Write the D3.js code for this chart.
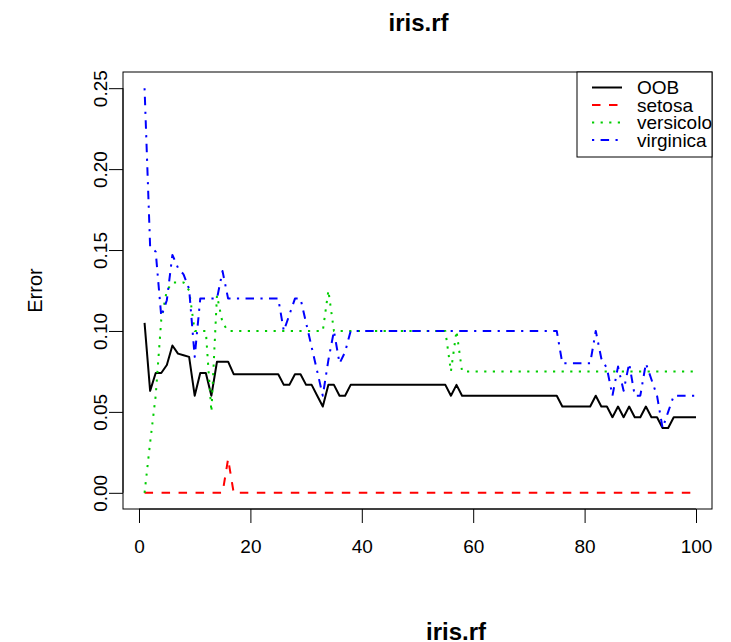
<!DOCTYPE html>
<html>
<head>
<meta charset="utf-8">
<script src="https://cdn.jsdelivr.net/npm/d3@7"></script>
<style>
  body { margin: 0; background: #fff; }
  svg { display: block; font-family: "Liberation Sans", Arial, Helvetica, sans-serif; }
</style>
</head>
<body>
<svg id="chart" width="731" height="642"></svg>
<script>
// Number of trees grown (x axis)
const trees = d3.range(1, 101);

// Out-of-bag error rate per number of trees
const oob = [
  0.105, 0.063, 0.074, 0.074, 0.079, 0.091, 0.086, 0.085, 0.084, 0.060,
  0.074, 0.074, 0.060, 0.081, 0.081, 0.081, 0.0733, 0.0733, 0.0733, 0.0733,
  0.0733, 0.0733, 0.0733, 0.0733, 0.0733, 0.0667, 0.0667, 0.0733, 0.0733, 0.0667,
  0.0667, 0.060, 0.0533, 0.0667, 0.0667, 0.060, 0.060, 0.0667, 0.0667, 0.0667,
  0.0667, 0.0667, 0.0667, 0.0667, 0.0667, 0.0667, 0.0667, 0.0667, 0.0667, 0.0667,
  0.0667, 0.0667, 0.0667, 0.0667, 0.0667, 0.060, 0.0667, 0.060, 0.060, 0.060,
  0.060, 0.060, 0.060, 0.060, 0.060, 0.060, 0.060, 0.060, 0.060, 0.060,
  0.060, 0.060, 0.060, 0.060, 0.060, 0.0533, 0.0533, 0.0533, 0.0533, 0.0533,
  0.0533, 0.060, 0.0533, 0.0533, 0.0467, 0.0533, 0.0467, 0.0533, 0.0467, 0.0467,
  0.0533, 0.0467, 0.0467, 0.040, 0.040, 0.0467, 0.0467, 0.0467, 0.0467, 0.0467
];

// Class error: setosa
const setosa = [
  0, 0, 0, 0, 0, 0, 0, 0, 0, 0,
  0, 0, 0, 0, 0, 0.021, 0, 0, 0, 0,
  0, 0, 0, 0, 0, 0, 0, 0, 0, 0,
  0, 0, 0, 0, 0, 0, 0, 0, 0, 0,
  0, 0, 0, 0, 0, 0, 0, 0, 0, 0,
  0, 0, 0, 0, 0, 0, 0, 0, 0, 0,
  0, 0, 0, 0, 0, 0, 0, 0, 0, 0,
  0, 0, 0, 0, 0, 0, 0, 0, 0, 0,
  0, 0, 0, 0, 0, 0, 0, 0, 0, 0,
  0, 0, 0, 0, 0, 0, 0, 0, 0, 0
];

// Class error: versicolor
const versicolor = [
  0, 0.031, 0.060, 0.107, 0.125, 0.130, 0.130, 0.130, 0.125, 0.100,
  0.100, 0.100, 0.050, 0.122, 0.105, 0.100, 0.100, 0.100, 0.100, 0.100,
  0.100, 0.100, 0.100, 0.100, 0.100, 0.100, 0.100, 0.100, 0.100, 0.100,
  0.100, 0.100, 0.100, 0.125, 0.100, 0.100, 0.100, 0.100, 0.100, 0.100,
  0.100, 0.100, 0.100, 0.100, 0.100, 0.100, 0.100, 0.100, 0.100, 0.100,
  0.100, 0.100, 0.100, 0.100, 0.100, 0.075, 0.100, 0.075, 0.075, 0.075,
  0.075, 0.075, 0.075, 0.075, 0.075, 0.075, 0.075, 0.075, 0.075, 0.075,
  0.075, 0.075, 0.075, 0.075, 0.075, 0.075, 0.075, 0.075, 0.075, 0.075,
  0.075, 0.075, 0.075, 0.075, 0.075, 0.075, 0.075, 0.075, 0.075, 0.075,
  0.075, 0.075, 0.075, 0.075, 0.075, 0.075, 0.075, 0.075, 0.075, 0.075
];

// Class error: virginica
const virginica = [
  0.250, 0.152, 0.149, 0.109, 0.119, 0.147, 0.139, 0.135, 0.126, 0.084,
  0.120, 0.120, 0.120, 0.120, 0.137, 0.120, 0.120, 0.120, 0.120, 0.120,
  0.120, 0.120, 0.120, 0.120, 0.120, 0.100, 0.110, 0.120, 0.120, 0.105,
  0.090, 0.075, 0.060, 0.082, 0.100, 0.080, 0.087, 0.100, 0.100, 0.100,
  0.100, 0.100, 0.100, 0.100, 0.100, 0.100, 0.100, 0.100, 0.100, 0.100,
  0.100, 0.100, 0.100, 0.100, 0.100, 0.100, 0.100, 0.100, 0.100, 0.100,
  0.100, 0.100, 0.100, 0.100, 0.100, 0.100, 0.100, 0.100, 0.100, 0.100,
  0.100, 0.100, 0.100, 0.100, 0.100, 0.080, 0.080, 0.080, 0.080, 0.080,
  0.080, 0.100, 0.083, 0.077, 0.060, 0.078, 0.063, 0.080, 0.060, 0.060,
  0.080, 0.070, 0.060, 0.040, 0.050, 0.060, 0.060, 0.060, 0.060, 0.060
];

const seriesNames = ["OOB", "setosa", "versicolor", "virginica"];
const seriesValues = [oob, setosa, versicolor, virginica];
const seriesColors = ["#000000", "#FF0000", "#00CD00", "#0000FF"];
const seriesDash = [null, "8.5,8.5", "2.2,6.4", "2.2,6.4,8.5,6.4"];

const xTicks = [0, 20, 40, 60, 80, 100];
const yTicks = [0, 0.05, 0.10, 0.15, 0.20, 0.25];

// Plot region
const L = 123, R = 712, T = 72, B = 509;

const svg = d3.select("#chart");

const x = d3.scaleLinear().domain([-2.87, 102.87]).range([L, R]);
const y = d3.scaleLinear().domain([-0.01, 0.26]).range([B, T]);

svg.append("defs").append("clipPath").attr("id", "plotclip")
  .append("rect").attr("x", L).attr("y", T).attr("width", R - L).attr("height", B - T);

// Series lines
const line = d3.line().x((d, i) => x(trees[i])).y(d => y(d));
const lines = svg.append("g").attr("clip-path", "url(#plotclip)");
seriesValues.forEach((vals, k) => {
  lines.append("path")
    .datum(vals)
    .attr("d", line)
    .attr("fill", "none")
    .attr("stroke", seriesColors[k])
    .attr("stroke-width", 2)
    .attr("stroke-linejoin", "round")
    .attr("stroke-dasharray", seriesDash[k]);
});

// Box around plot region
svg.append("rect")
  .attr("x", L).attr("y", T).attr("width", R - L).attr("height", B - T)
  .attr("fill", "none").attr("stroke", "#000").attr("stroke-width", 1);

// X axis
const xAxis = svg.append("g")
  .attr("transform", `translate(0,${B})`)
  .call(d3.axisBottom(x).tickValues(xTicks).tickFormat(d3.format("d"))
    .tickSize(14).tickSizeOuter(0).tickPadding(17));
xAxis.select(".domain").remove();
xAxis.append("line").attr("x1", x(0)).attr("x2", x(100)).attr("stroke", "#000");
xAxis.selectAll("text").attr("font-size", 19).attr("fill", "#000")
  .attr("font-family", "'Liberation Sans', Arial, sans-serif");

// Y axis
const yAxis = svg.append("g")
  .attr("transform", `translate(${L},0)`)
  .call(d3.axisLeft(y).tickValues(yTicks).tickFormat(d3.format(".2f"))
    .tickSize(14).tickSizeOuter(0));
yAxis.select(".domain").remove();
yAxis.append("line").attr("y1", y(0)).attr("y2", y(0.25)).attr("stroke", "#000");
yAxis.selectAll(".tick text")
  .attr("x", null).attr("dy", "0.35em")
  .attr("text-anchor", "middle")
  .attr("transform", "translate(-23,0) rotate(-90)")
  .attr("font-size", 19).attr("fill", "#000")
  .attr("font-family", "'Liberation Sans', Arial, sans-serif");

// Axis title
svg.append("text")
  .attr("transform", `translate(35,${(T + B) / 2}) rotate(-90)`)
  .attr("text-anchor", "middle").attr("dy", "0.35em")
  .attr("font-size", 20).text("Error");

// Titles
svg.append("text")
  .attr("x", (L + R) / 2 + 1).attr("y", 31)
  .attr("text-anchor", "middle").attr("font-size", 24).attr("font-weight", "bold")
  .text("iris.rf");
svg.append("text")
  .attr("x", 456).attr("y", 640)
  .attr("text-anchor", "middle").attr("font-size", 24).attr("font-weight", "bold")
  .text("iris.rf");

// Legend (top right, text clipped to plot region)
const legend = svg.append("g");
const lgX = 577, lgW = R - lgX, lgH = 85;
legend.append("rect")
  .attr("x", lgX).attr("y", T).attr("width", lgW).attr("height", lgH)
  .attr("fill", "#fff").attr("stroke", "#000").attr("stroke-width", 1);
const rowY = [87.5, 105, 122.5, 140];
const legendText = legend.append("g").attr("clip-path", "url(#plotclip)");
seriesNames.forEach((name, k) => {
  legend.append("line")
    .attr("x1", 592).attr("x2", 622)
    .attr("y1", rowY[k]).attr("y2", rowY[k])
    .attr("stroke", seriesColors[k]).attr("stroke-width", 2)
    .attr("stroke-dasharray", seriesDash[k]);
  legendText.append("text")
    .attr("x", 637).attr("y", rowY[k]).attr("dy", "0.35em")
    .attr("font-size", 19).text(name);
});
</script>
</body>
</html>
